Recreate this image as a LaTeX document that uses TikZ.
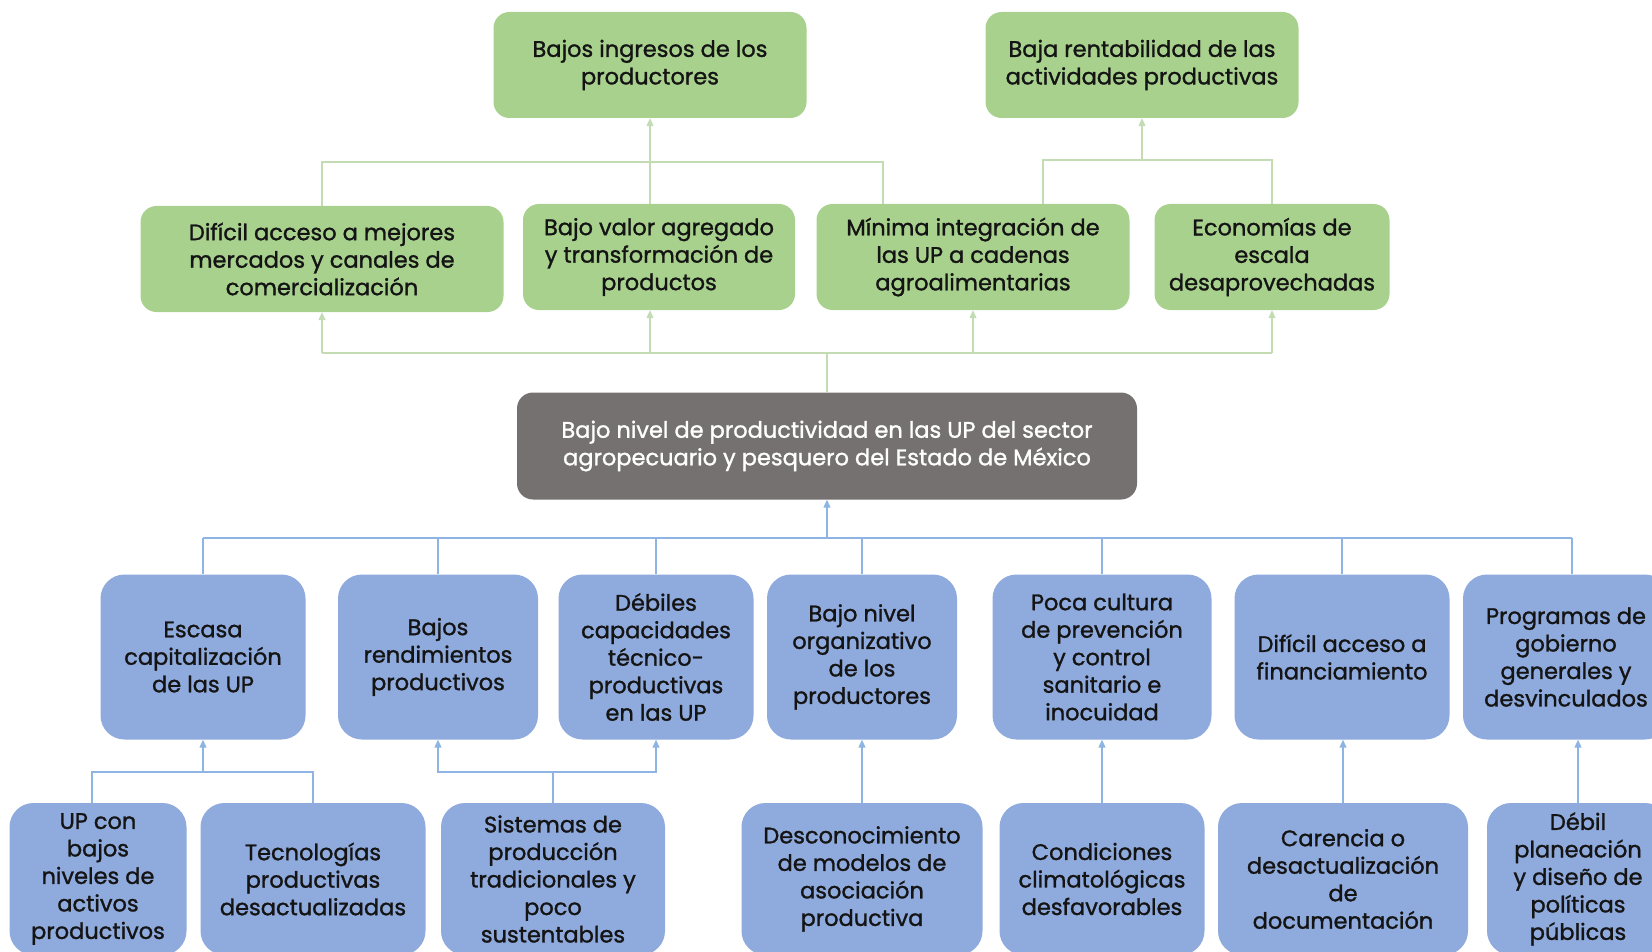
\documentclass[tikz,border=0pt]{standalone}
\usepackage{fontspec}
\setmainfont{Poppins}[BoldFont=Poppins,BoldFeatures={FakeBold=1.2}]
\usetikzlibrary{arrows.meta}
\definecolor{verdecaja}{HTML}{A9D18E}
\definecolor{verdelin}{HTML}{C3DCB4}
\definecolor{azulcaja}{HTML}{8FAADC}
\definecolor{azullin}{HTML}{8DB4E2}
\definecolor{grisca}{HTML}{767171}
\definecolor{texto}{HTML}{141414}
\begin{document}
\begin{tikzpicture}[x=1pt,y=-1pt,
  every node/.style={font=\fontsize{22.5}{27.5}\selectfont\bfseries},
  >={Triangle[length=8pt,width=7pt]}
]

\tikzstyle{efecto}=[rounded corners=16pt,fill=verdecaja,text=texto,align=center,inner sep=0pt,minimum height=106pt]
\tikzstyle{causa}=[rounded corners=24pt,fill=azulcaja,text=texto,align=center,inner sep=0pt]
\tikzstyle{problema}=[rounded corners=16pt,fill=grisca,text=white,align=center,inner sep=0pt,minimum height=107pt]
\tikzstyle{lverde}=[draw=verdelin,line width=1.2pt,color=verdelin]
\tikzstyle{lazul}=[draw=azullin,line width=1.2pt,color=azullin]

\useasboundingbox (0,0) rectangle (1652,952);
\clip (0,0) rectangle (1652,952);

% efectos
\node [efecto,minimum width=313pt] (ingresos) at (650,65) {Bajos ingresos de los\\productores};
\node [efecto,minimum width=313pt] (rentabilidad) at (1142,65) {Baja rentabilidad de las\\actividades productivas};
\node [efecto,minimum width=363pt] (mercados) at (322,259) {Difícil acceso a mejores\\mercados y canales de\\comercialización};
\node [efecto,minimum width=272pt] (valor) at (659,257) {Bajo valor agregado\\y transformación de\\productos};
\node [efecto,minimum width=313pt] (cadenas) at (973,257) {Mínima integración de\\las UP a cadenas\\agroalimentarias};
\node [efecto,minimum width=235pt] (escala) at (1272,257) {Economías de\\escala\\desaprovechadas};

% problema central
\node [problema,minimum width=620pt] (central) at (827,446) {Bajo nivel de productividad en las UP del sector\\agropecuario y pesquero del Estado de México};

% causas
\node [causa,minimum width=205pt,minimum height=165pt] (capital) at (203,657) {Escasa\\capitalización\\de las UP};
\node [causa,minimum width=200pt,minimum height=165pt] (rendim) at (438,657) {Bajos\\rendimientos\\productivos};
\node [causa,minimum width=195pt,minimum height=165pt] (capac) at (656,657) {Débiles\\capacidades\\técnico-\\productivas\\en las UP};
\node [causa,minimum width=190pt,minimum height=165pt] (organiz) at (862,657) {Bajo nivel\\organizativo\\de los\\productores};
\node [causa,minimum width=219pt,minimum height=165pt] (sanidad) at (1102,657) {Poca cultura\\de prevención\\y control\\sanitario e\\inocuidad};
\node [causa,minimum width=215pt,minimum height=165pt] (financ) at (1342,657) {Difícil acceso a\\financiamiento};
\node [causa,minimum width=206pt,minimum height=165pt] (programas) at (1566,657) {Programas de\\gobierno\\generales y\\desvinculados};

% causas de segundo nivel
\node [causa,minimum width=177pt,minimum height=152pt] (activos) at (98,879) {UP con\\bajos\\niveles de\\activos\\productivos};
\node [causa,minimum width=225pt,minimum height=152pt] (tecno) at (313,879) {Tecnologías\\productivas\\desactualizadas};
\node [causa,minimum width=224pt,minimum height=152pt] (sistemas) at (553,879) {Sistemas de\\producción\\tradicionales y\\poco\\sustentables};
\node [causa,minimum width=241pt,minimum height=152pt] (asociacion) at (862,879) {Desconocimiento\\de modelos de\\asociación\\productiva};
\node [causa,minimum width=205pt,minimum height=152pt] (clima) at (1102,879) {Condiciones\\climatológicas\\desfavorables};
\node [causa,minimum width=250pt,minimum height=152pt] (document) at (1343,879) {Carencia o\\desactualización\\de\\documentación};
\node [causa,minimum width=182pt,minimum height=152pt] (planeacion) at (1578,879) {Débil\\planeación\\y diseño de\\políticas\\públicas};

\coordinate (bus1) at (651,162);
\coordinate (bus2) at (1142,160);
\coordinate (bus3) at (827,353);
\coordinate (bus4) at (827,538);
\coordinate (bus5) at (203,772);

% conectores verdes
\draw [lverde] (mercados.north) |- (bus1) -| ([xshift=-90pt]cadenas.north);
\draw [lverde,->] (valor.north -| ingresos.south) -- (ingresos.south);
\draw [lverde] ([xshift=70pt]cadenas.north) |- (escala.north |- bus2) -- (escala.north);
\draw [lverde,->] (bus2) -- (rentabilidad.south);
\draw [lverde] (central.north) -- (bus3);
\draw [lverde] (mercados.south |- bus3) -- (escala.south |- bus3);
\foreach \n in {mercados,cadenas,escala}
  \draw [lverde,->] (\n.south |- bus3) -- (\n.south);
\draw [lverde,->] (ingresos.south |- bus3) -- (valor.south -| ingresos.south);

% conectores azules
\draw [lazul,->] (bus4) -- (central.south);
\draw [lazul] (capital.north |- bus4) -- ([xshift=6pt]programas.north |- bus4);
\foreach \n in {capital,rendim,capac,organiz,sanidad,financ}
  \draw [lazul] (\n.north |- bus4) -- (\n.north);
\draw [lazul] ([xshift=6pt]programas.north |- bus4) -- ([xshift=6pt]programas.north);
\draw [lazul] ([xshift=-6pt]activos.north) |- (bus5) -| (tecno.north);
\draw [lazul,->] (bus5) -- (capital.south);
\draw [lazul] (sistemas.north) -- (sistemas.north |- bus5);
\draw [lazul,->] (sistemas.north |- bus5) -| (rendim.south);
\draw [lazul,->] (sistemas.north |- bus5) -| (capac.south);
\foreach \a/\b in {asociacion/organiz,clima/sanidad,document/financ,planeacion/programas}
  \draw [lazul,->] (\a.north) -- (\a.north |- \b.south);
\end{tikzpicture}
\end{document}
